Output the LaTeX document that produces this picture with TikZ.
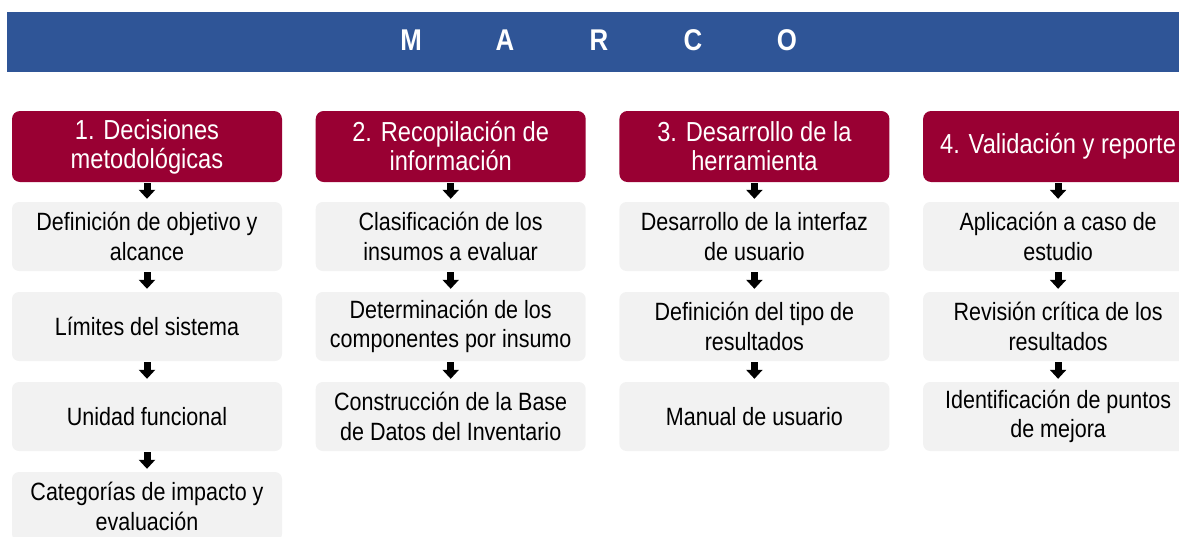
\documentclass[tikz,border=0pt]{standalone}
\usepackage{fontspec}
\setmainfont{Liberation Sans}[FakeStretch=0.86]
\usetikzlibrary{arrows.meta}
\definecolor{barra}{HTML}{2F5597}
\definecolor{bordeaux}{HTML}{990033}
\definecolor{grigio}{HTML}{F2F2F2}
\tikzset{
  titolo/.style={fill=bordeaux, text=white, rounded corners=8pt, minimum width=270pt, minimum height=71pt, inner sep=0pt, align=center, font=\fontsize{27.5}{29}\selectfont},
  passo/.style={fill=grigio, text=black, rounded corners=7pt, minimum width=270pt, minimum height=69pt, inner sep=0pt, align=center, font=\fontsize{25}{29.5}\selectfont},
  freccia/.style={line width=7pt, -{Triangle[width=16pt,length=9pt]}, shorten <=1pt, shorten >=3pt}
}
\begin{document}
\begin{tikzpicture}[x=1pt,y=-1pt]
        \useasboundingbox (0,0) rectangle (1179,536);
        \def\passox{303.7}
        \def\passoy{90}

        % Disegna la barra in alto
        \fill[barra] (7,12) rectangle (1200,72);
        \foreach \l [count=\i] in {M,A,R,C,O} {
            \node[text=white, font=\fontsize{30}{30}\bfseries\selectfont, anchor=base, inner sep=0pt] (lettera\i) at ({411+94*(\i-1)},50) {\l};
        }

        % Disegna i titoli delle fasi
        \foreach \c/\testo in {1/{1. Decisiones\\metodológicas}, 2/{2. Recopilación de\\información}, 3/{3. Desarrollo de la\\herramienta}, 4/{4. Validación y reporte}} {
            \node[titolo] (t\c) at ({147+\passox*(\c-1)},146.5) {\testo};
        }

        % Disegna i passi
        \foreach \c/\r/\testo in {
            1/1/{Definición de objetivo y\\alcance}, 1/2/{Límites del sistema}, 1/3/{Unidad funcional}, 1/4/{Categorías de impacto y\\evaluación},
            2/1/{Clasificación de los\\insumos a evaluar}, 2/2/{Determinación de los\\componentes por insumo}, 2/3/{Construcción de la Base\\de Datos del Inventario},
            3/1/{Desarrollo de la interfaz\\de usuario}, 3/2/{Definición del tipo de\\resultados}, 3/3/{Manual de usuario},
            4/1/{Aplicación a caso de\\estudio}, 4/2/{Revisión crítica de los\\resultados}, 4/3/{Identificación de puntos\\de mejora}} {
            \node[passo] (p\c\r) at ({147+\passox*(\c-1)},{236.5+\passoy*(\r-1)}) {\testo};
        }

        % Disegna le frecce
        \foreach \da/\a in {t1/p11, p11/p12, p12/p13, p13/p14, t2/p21, p21/p22, p22/p23, t3/p31, p31/p32, p32/p33, t4/p41, p41/p42, p42/p43} {
            \draw[freccia] (\da) -- (\a);
        }
\end{tikzpicture}
\end{document}
